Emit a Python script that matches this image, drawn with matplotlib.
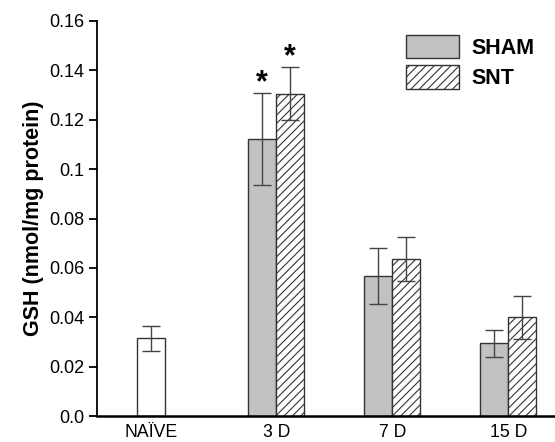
import matplotlib
matplotlib.use("Agg")
import matplotlib.pyplot as plt

# data
groups = ["NAÏVE", "3 D", "7 D", "15 D"]
naive_mean = 0.0315
naive_err = 0.005
days = ["3 D", "7 D", "15 D"]
sham = [0.1122, 0.0567, 0.0294]
sham_err = [0.0188, 0.0115, 0.0054]
snt = [0.1305, 0.0636, 0.0400]
snt_err = [0.0108, 0.0090, 0.0088]
signif = [True, False, False]
yticks = [0.0, 0.02, 0.04, 0.06, 0.08, 0.1, 0.12, 0.14, 0.16]
ytick_labels = ["0.0", "0.02", "0.04", "0.06", "0.08", "0.1", "0.12", "0.14", "0.16"]

plt.rcParams["font.family"] = ["Liberation Sans", "DejaVu Sans"]
plt.rcParams["hatch.linewidth"] = 0.8

fig = plt.figure(figsize=(5.55, 4.42), dpi=100)
ax = fig.add_axes([0.1748, 0.0588, 0.825, 0.8937])

pos = [-0.08, 1, 2, 3]
w = 0.241
edge = "#333333"
ekw = dict(ecolor="#444444", elinewidth=1.0, capsize=6.5, capthick=1.0)

ax.bar(pos[0], naive_mean, w, yerr=naive_err, color="white", edgecolor=edge,
       linewidth=1.0, error_kw=ekw)

xs = pos[1:]
b1 = ax.bar([x - w / 2 for x in xs], sham, w, yerr=sham_err, color="#c2c2c2",
            edgecolor=edge, linewidth=1.0, error_kw=ekw, label="SHAM")
b2 = ax.bar([x + w / 2 for x in xs], snt, w, yerr=snt_err, color="white",
            edgecolor=edge, linewidth=1.0, hatch="////", error_kw=ekw, label="SNT")

for i, s in enumerate(signif):
    if s:
        ax.annotate("*", (xs[i] - w / 2, sham[i] + sham_err[i]), xytext=(0, -4),
                    textcoords="offset points", ha="center", va="bottom",
                    fontsize=22, fontweight="bold")
        ax.annotate("*", (xs[i] + w / 2, snt[i] + snt_err[i]), xytext=(0, -4),
                    textcoords="offset points", ha="center", va="bottom",
                    fontsize=22, fontweight="bold")

ax.set_xlim(-0.543, 3.4)
ax.set_ylim(0, 0.16)
ax.set_yticks(yticks)
ax.set_yticklabels(ytick_labels)
ax.set_xticks(pos)
ax.set_xticklabels(groups)
ax.tick_params(axis="x", length=0, labelsize=12.7, pad=6)
ax.tick_params(axis="y", direction="out", length=6, width=1.3, labelsize=13, pad=3)
ax.set_ylabel("GSH (nmol/mg protein)", fontsize=15.5, fontweight="bold", labelpad=3.5)

for sp in ["top", "right"]:
    ax.spines[sp].set_visible(False)
ax.spines["left"].set_linewidth(1.3)
ax.spines["bottom"].set_linewidth(1.8)

leg = ax.legend(handles=[b1, b2], loc="upper left", bbox_to_anchor=(0.6747, 0.9646),
                frameon=False, prop={"weight": "bold", "size": 15.5},
                borderpad=0, borderaxespad=0,
                handlelength=2.46, handleheight=1.3, handletextpad=0.6,
                labelspacing=0.3)

fig.savefig("out.png", dpi=100)
